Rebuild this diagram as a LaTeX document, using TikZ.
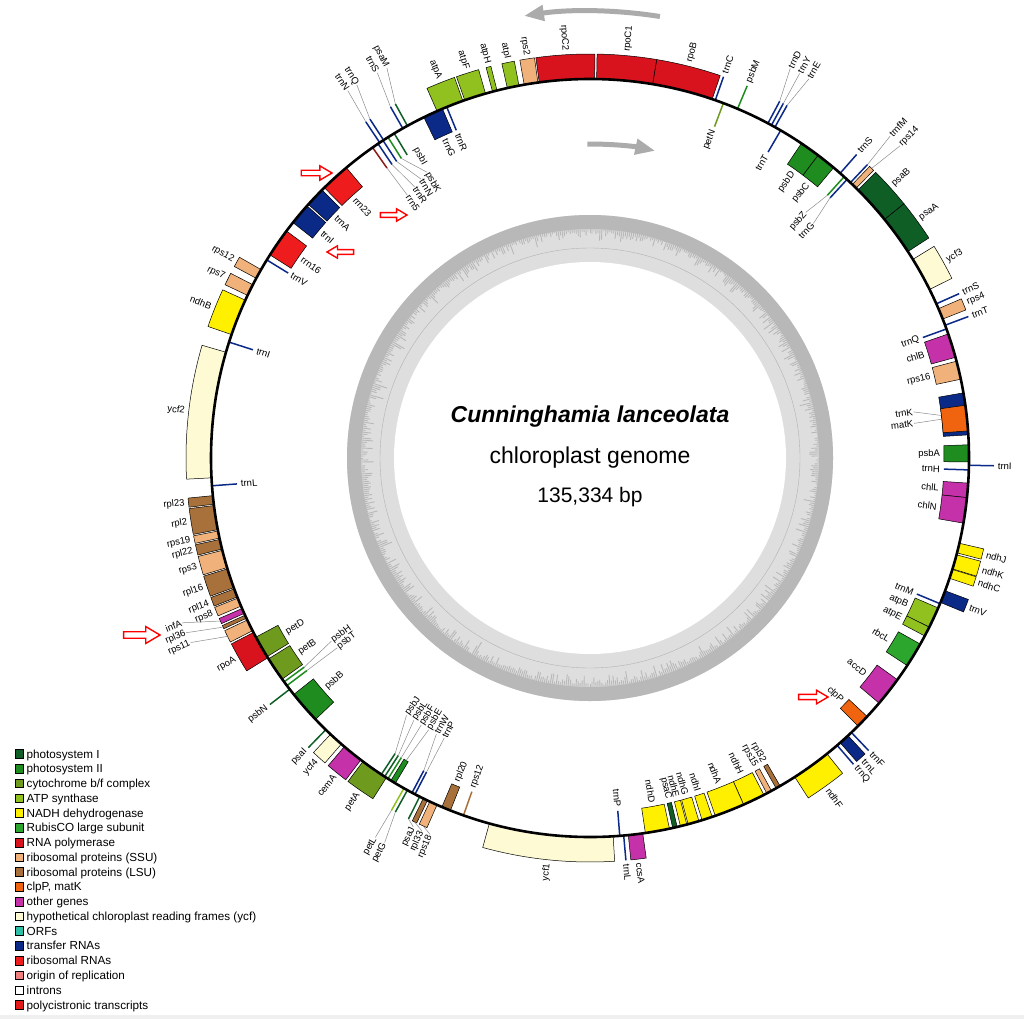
\documentclass[tikz,border=0pt]{standalone}
\usepackage{fontspec}
\setmainfont{Liberation Sans}
\usetikzlibrary{arrows.meta}
\definecolor{cPSI}{HTML}{0F5E26}
\definecolor{cPSII}{HTML}{1E8C1E}
\definecolor{cCYT}{HTML}{6E9A1E}
\definecolor{cATP}{HTML}{90C11E}
\definecolor{cNADH}{HTML}{FFF000}
\definecolor{cRUB}{HTML}{2DA62D}
\definecolor{cRNAP}{HTML}{D9131E}
\definecolor{cSSU}{HTML}{F0B27A}
\definecolor{cLSU}{HTML}{A8703A}
\definecolor{cCLP}{HTML}{F0640F}
\definecolor{cOTH}{HTML}{C431A8}
\definecolor{cYCF}{HTML}{FEFAD4}
\definecolor{cORF}{HTML}{2EBFA8}
\definecolor{cTRNA}{HTML}{0B2A88}
\definecolor{cRRNA}{HTML}{EE1C1C}
\definecolor{cRRNAd}{HTML}{8B1A1A}
\definecolor{cORI}{HTML}{F08080}
\definecolor{cPOLY}{HTML}{E41A1A}
\definecolor{ringdark}{HTML}{B8B8B8}
\definecolor{ringlight}{HTML}{DEDEDE}
\definecolor{garrowc}{HTML}{ABABAB}
\tikzset{
  glab/.style={font=\fontsize{9.5}{10}\selectfont, inner sep=0.8pt, text=black},
  leader/.style={draw=black!45, line width=0.5pt},
  legtxt/.style={font=\fontsize{11.7}{12}\selectfont, inner sep=0pt},
  garrow/.style={draw=garrowc, line width=5pt, -{Triangle[length=20pt,width=15pt]}},
  redarr/.style={draw=red, fill=white, line width=1.4pt, line join=miter}
}
% gene box: start angle, end angle, colour, o/i
\newcommand\gBox[4]{%
  \if#4o\def\gRa{379}\def\gRb{404}\else\def\gRa{354}\def\gRb{379}\fi
  \filldraw[fill=#3,draw=black,line width=0.5pt] (#1:\gRa) arc[start angle=#1,end angle=#2,radius=\gRa] -- (#2:\gRb) arc[start angle=#2,end angle=#1,radius=\gRb] -- cycle;}
% thin gene: angle, colour, o/i
\newcommand\gLine[3]{%
  \if#3o\def\gRb{404}\else\def\gRb{354}\fi
  \draw[#2,line width=1.5pt] (#1:379) -- (#1:\gRb);}
% label: angle, radius, text, o/i
\newcommand\gLab[4]{%
  \pgfmathtruncatemacro\gLeft{cos(#1)<0?1:0}%
  \ifnum\gLeft=1
    \pgfmathsetmacro\gRot{#1+180}%
    \if#4o\def\gAnc{east}\else\def\gAnc{west}\fi
  \else
    \pgfmathsetmacro\gRot{#1}%
    \if#4o\def\gAnc{west}\else\def\gAnc{east}\fi
  \fi
  \node[glab,rotate=\gRot,anchor=\gAnc] at (#1:#2) {#3};}
\newcommand\gLead[4]{%
  \if#4o\def\gRb{404}\else\def\gRb{354}\fi
  \draw[leader] (#1:\gRb) -- (#2:#3);}
\newcommand\gLL[5]{\gLead{#1}{#2}{#3}{#5}\gLab{#2}{#3}{#4}{#5}}
\newcommand\redArrow[4]{% x, y, rotation, scale
  \draw[redarr,shift={(#1,#2)},rotate=#3,scale=#4] (0,0) -- (-11,6.5) -- (-11,2.5) -- (-28,2.5) -- (-28,-2.5) -- (-11,-2.5) -- (-11,-6.5) -- cycle;}
\newcommand\legItem[3]{%
  \pgfmathsetmacro\ly{-754-14.76*#1}
  \node[draw=black,line width=0.7pt,fill=#2,minimum size=8.6pt,inner sep=0pt] (lg#1) at (19.2,\ly) {};
  \node[legtxt,anchor=base west] (lt#1) at (26.5,\ly-4.1) {#3};}
\begin{document}
\begin{tikzpicture}[x=1pt,y=1pt]
\useasboundingbox (0,0) rectangle (1024,-1019);
\fill[white] (0,0) rectangle (1024,-1019);
\fill[black!6] (0,-1015) rectangle (1024,-1019);

\begin{scope}[shift={(590,-458)}]
% GC ring
\fill[ringlight] (0,0) circle[radius=243];
\draw[black!30,line width=0.4pt] (0,0) circle[radius=210];
\fill[ringdark,even odd rule] (0,0) circle[radius=243] (0,0) circle[radius=229];
\pgfmathsetseed{42}
\foreach \a in {0,0.5,...,359.5}{%
  \pgfmathsetmacro\rr{229-12*rnd*rnd-4*rnd}
  \draw[ringdark,line width=0.9pt] (\a:229.5) -- (\a:\rr);}
\fill[white] (0,0) circle[radius=196];

% title
\node[font=\fontsize{23}{24}\selectfont\bfseries\itshape] (t1) at (0,41) {Cunninghamia lanceolata};
\node[font=\fontsize{23}{24}\selectfont] (t2) at (0,0.5) {chloroplast genome};
\node[font=\fontsize{21}{22}\selectfont] (t3) at (0,-39.5) {135,334 bp};

% gray direction arrows
\draw[garrow] (81:447) arc[start angle=81,end angle=98.5,radius=447];
\draw[garrow] (90.5:314) arc[start angle=90.5,end angle=78,radius=314];

% ---------- genes ----------
\gBox{71.2}{80.5}{cRNAP}{o}
\gBox{80.5}{89.0}{cRNAP}{o}
\gBox{89.3}{97.7}{cRNAP}{o}
\gBox{97.9}{100.0}{cSSU}{o}
\gBox{100.8}{102.6}{cATP}{o}
\gBox{104.2}{104.9}{cATP}{o}
\gBox{106.0}{109.3}{cATP}{o}
\gBox{109.6}{113.8}{cATP}{o}
\gLine{70.7}{cTRNA}{o}
\gLine{69.4}{cCYT}{i}
\gLine{67.1}{cPSII}{o}
\gLine{62.0}{cTRNA}{o}
\gLine{61.4}{cTRNA}{o}
\gLine{60.8}{cTRNA}{o}
\gLine{59.8}{cTRNA}{i}
\gBox{53.0}{56.1}{cPSII}{i}
\gBox{50.0}{53.0}{cPSII}{i}
\gLine{48.7}{cTRNA}{o}
\gLine{47.9}{cPSII}{i}
\gLine{47.3}{cTRNA}{i}
\gLine{46.6}{cTRNA}{o}
\gBox{45.4}{46.2}{cSSU}{o}
\gBox{39.0}{45.0}{cPSI}{o}
\gBox{33.0}{39.0}{cPSI}{o}
\gBox{26.4}{31.6}{cYCF}{o}
\gLine{24.0}{cTRNA}{o}
\gBox{21.5}{23.2}{cSSU}{o}
\gLine{20.5}{cTRNA}{o}
\gLine{19.9}{cTRNA}{i}
\gBox{15.4}{19.1}{cOTH}{i}
\gBox{12.0}{14.8}{cSSU}{i}
\gBox{3.5}{9.9}{cTRNA}{i}
\gBox{4.1}{8.0}{cCLP}{i}
\gBox{-0.6}{2.0}{cPSII}{i}
\gLine{-1.8}{cTRNA}{i}
\gLine{-1.1}{cTRNA}{o}
\gBox{-6.0}{-3.8}{cOTH}{i}
\gBox{-9.9}{-6.0}{cOTH}{i}
\gBox{-14.5}{-13.0}{cNADH}{o}
\gBox{-17.0}{-14.8}{cNADH}{o}
\gBox{-18.5}{-17.1}{cNADH}{o}
\gBox{-22.4}{-20.5}{cTRNA}{o}
\gLine{-22.6}{cTRNA}{i}
\gBox{-26.5}{-23.3}{cATP}{i}
\gBox{-28.0}{-26.5}{cATP}{i}
\gBox{-33.2}{-29.4}{cRUB}{i}
\gBox{-40.3}{-35.8}{cOTH}{i}
\gBox{-45.0}{-43.0}{cCLP}{i}
\gLine{-46.4}{cTRNA}{o}
\gBox{-48.7}{-47.1}{cTRNA}{o}
\gLine{-49.3}{cTRNA}{o}
\gBox{-57.3}{-51.3}{cNADH}{o}
\gBox{-60.6}{-59.9}{cLSU}{i}
\gBox{-62.2}{-61.4}{cSSU}{i}
\gBox{-66.1}{-62.7}{cNADH}{i}
\gBox{-70.7}{-66.1}{cNADH}{i}
\gBox{-72.8}{-71.2}{cNADH}{i}
\gBox{-75.0}{-73.3}{cNADH}{i}
\gBox{-76.2}{-75.2}{cNADH}{i}
\gBox{-77.4}{-76.7}{cPSI}{i}
\gBox{-81.6}{-77.9}{cNADH}{i}
\gBox{-84.2}{-82.0}{cOTH}{o}
\gLine{-84.9}{cTRNA}{o}
\gLine{-85.5}{cTRNA}{i}
\gBox{254.6}{273.5}{cYCF}{o}
\gLine{250.5}{cLSU}{i}
\gBox{247.0}{248.4}{cLSU}{i}
\gBox{245.0}{246.2}{cSSU}{o}
\gBox{243.9}{244.6}{cLSU}{o}
\gLine{243.3}{cPSI}{o}
\gLine{242.5}{cTRNA}{i}
\gLine{242.0}{cTRNA}{i}
\gLine{241.2}{cPSI}{o}
\gLine{240.6}{cATP}{o}
\gBox{238.3}{239.1}{cPSII}{i}
\gLine{237.8}{cPSII}{i}
\gLine{237.2}{cPSI}{i}
\gLine{236.6}{cPSI}{i}
\gBox{233.2}{237.5}{cCYT}{o}
\gBox{229.6}{232.8}{cOTH}{o}
\gBox{226.8}{229.0}{cYCF}{o}
\gLine{225.8}{cPSI}{o}
\gBox{218.6}{223.6}{cPSII}{i}
\gLine{217.6}{cPSI}{o}
\gLine{216.9}{cPSII}{i}
\gLine{216.2}{cPSII}{i}
\gBox{212.0}{215.7}{cCYT}{i}
\gBox{208.2}{211.6}{cCYT}{i}
\gBox{207.4}{211.8}{cRNAP}{o}
\gBox{205.3}{207.1}{cSSU}{o}
\gBox{204.5}{205.0}{cLSU}{o}
\gBox{203.4}{204.2}{cOTH}{o}
\gBox{201.7}{203.0}{cSSU}{o}
\gBox{200.2}{201.5}{cLSU}{o}
\gBox{197.0}{200.0}{cLSU}{o}
\gBox{194.1}{196.8}{cSSU}{o}
\gBox{192.4}{193.9}{cLSU}{o}
\gBox{191.1}{192.2}{cSSU}{o}
\gBox{187.2}{190.9}{cLSU}{o}
\gBox{185.7}{187.0}{cLSU}{o}
\gLine{184.2}{cTRNA}{i}
\gBox{163.8}{183.0}{cYCF}{o}
\gLine{162.2}{cTRNA}{i}
\gBox{155.4}{161.0}{cNADH}{o}
\gBox{152.8}{154.6}{cSSU}{o}
\gBox{150.2}{151.7}{cSSU}{o}
\gLine{148.5}{cTRNA}{i}
\gBox{143.2}{147.6}{cRRNA}{i}
\gBox{138.3}{141.6}{cTRNA}{i}
\gBox{135.0}{138.0}{cTRNA}{i}
\gBox{130.0}{134.5}{cRRNA}{i}
\gLine{125.0}{cRRNAd}{i}
\gLine{124.0}{cTRNA}{i}
\gLine{123.1}{cTRNA}{i}
\gLine{122.2}{cPSII}{i}
\gLine{121.1}{cPSI}{i}
\gLine{123.7}{cTRNA}{o}
\gLine{123.0}{cTRNA}{o}
\gLine{119.6}{cTRNA}{o}
\gLine{118.8}{cPSI}{o}
\gBox{112.9}{116.0}{cTRNA}{i}
\gLine{112.2}{cTRNA}{i}

% main circle
\draw[black,line width=2.6pt] (0,0) circle[radius=379];

% ---------- labels outside ----------
\gLab{75.85}{407}{rpoB}{o}
\gLab{84.75}{407}{rpoC1}{o}
\gLab{93.5}{407}{rpoC2}{o}
\gLab{98.95}{407}{rps2}{o}
\gLab{101.7}{407}{atpI}{o}
\gLab{104.55}{407}{atpH}{o}
\gLab{107.65}{407}{atpF}{o}
\gLab{111.7}{407}{atpA}{o}
\gLab{70.7}{407}{trnC}{o}
\gLab{67.1}{407}{psbM}{o}
\gLab{48.7}{407}{trnS}{o}
\gLab{42.0}{407}{psaB}{o}
\gLab{36.0}{407}{psaA}{o}
\gLab{29.0}{407}{ycf3}{o}
\gLab{24.0}{407}{trnS}{o}
\gLab{22.35}{407}{rps4}{o}
\gLab{20.5}{407}{trnT}{o}
\gLab{-1.1}{407}{trnI}{o}
\gLab{-13.75}{407}{ndhJ}{o}
\gLab{-15.9}{407}{ndhK}{o}
\gLab{-17.8}{407}{ndhC}{o}
\gLab{-21.45}{407}{trnV}{o}
\gLab{-46.4}{407}{trnF}{o}
\gLab{-47.9}{407}{trnL}{o}
\gLab{-49.3}{407}{trnQ}{o}
\gLab{-54.3}{407}{ndhF}{o}
\gLab{-83.1}{407}{ccsA}{o}
\gLab{-84.9}{407}{trnL}{o}
\gLab{264}{407}{ycf1}{o}
\gLab{235.35}{407}{petA}{o}
\gLab{231.2}{407}{cemA}{o}
\gLab{227.9}{407}{ycf4}{o}
\gLab{225.8}{407}{psaI}{o}
\gLab{217.6}{407}{psbN}{o}
\gLab{209.6}{407}{rpoA}{o}
\gLab{202.35}{407}{rps8}{o}
\gLab{200.85}{407}{rpl14}{o}
\gLab{198.5}{407}{rpl16}{o}
\gLab{195.45}{407}{rps3}{o}
\gLab{193.15}{407}{rpl22}{o}
\gLab{191.65}{407}{rps19}{o}
\gLab{189.05}{407}{rpl2}{o}
\gLab{186.35}{407}{rpl23}{o}
\gLab{173.4}{407}{ycf2}{o}
\gLab{158.2}{407}{ndhB}{o}
\gLab{153.7}{407}{rps7}{o}
\gLab{150.95}{407}{rps12}{o}
\gLL{118.8}{117.5}{440}{psaM}{o}
\gLL{119.6}{118.9}{440}{trnS}{o}
\gLL{123.0}{122.0}{440}{trnQ}{o}
\gLL{123.7}{123.4}{440}{trnN}{o}
\gLL{62.0}{62.8}{438}{trnD}{o}
\gLL{61.4}{61.4}{438}{trnY}{o}
\gLL{60.8}{60.0}{438}{trnE}{o}
\gLL{46.6}{47.0}{440}{trnfM}{o}
\gLL{45.8}{45.2}{440}{rps14}{o}
\gLL{203.8}{202.0}{440}{infA}{o}
\gLL{204.75}{203.4}{440}{rpl36}{o}
\gLL{206.2}{204.8}{440}{rps11}{o}
\gLL{243.3}{244.4}{409}{psaJ}{o}
\gLL{244.25}{245.7}{409}{rpl33}{o}
\gLL{245.6}{247.0}{409}{rps18}{o}
\gLL{240.6}{240.5}{436}{petL}{o}
\gLL{241.2}{241.9}{436}{petG}{o}

% ---------- labels inside ----------
\gLab{69.4}{351}{petN}{i}
\gLab{59.8}{351}{trnT}{i}
\gLab{54.55}{351}{psbD}{i}
\gLab{51.5}{351}{psbC}{i}
\gLab{19.9}{351}{trnQ}{i}
\gLab{17.25}{351}{chlB}{i}
\gLab{13.4}{351}{rps16}{i}
\gLab{0.7}{351}{psbA}{i}
\gLab{-1.8}{351}{trnH}{i}
\gLab{-4.9}{351}{chlL}{i}
\gLab{-8.0}{351}{chlN}{i}
\gLab{-22.6}{351}{trnM}{i}
\gLab{-24.9}{351}{atpB}{i}
\gLab{-27.25}{351}{atpE}{i}
\gLab{-31.3}{351}{rbcL}{i}
\gLab{-38.05}{351}{accD}{i}
\gLab{-44.0}{351}{clpP}{i}
\gLab{-60.25}{351}{rpl32}{i}
\gLab{-61.8}{351}{rps15}{i}
\gLab{-64.4}{351}{ndhH}{i}
\gLab{-68.4}{351}{ndhA}{i}
\gLab{-72.0}{351}{ndhI}{i}
\gLab{-74.15}{351}{ndhG}{i}
\gLab{-75.7}{351}{ndhE}{i}
\gLab{-77.05}{351}{psaC}{i}
\gLab{-79.75}{351}{ndhD}{i}
\gLab{-85.5}{351}{trnP}{i}
\gLab{250.5}{351}{rps12}{i}
\gLab{247.7}{351}{rpl20}{i}
\gLab{221.1}{351}{psbB}{i}
\gLab{213.85}{351}{petB}{i}
\gLab{209.9}{351}{petD}{i}
\gLab{184.2}{351}{trnL}{i}
\gLab{162.2}{351}{trnI}{i}
\gLab{148.5}{351}{trnV}{i}
\gLab{145.4}{351}{rrn16}{i}
\gLab{139.95}{351}{trnI}{i}
\gLab{136.5}{351}{trnA}{i}
\gLab{132.25}{351}{rrn23}{i}
\gLab{114.45}{351}{trnG}{i}
\gLab{112.2}{351}{trnR}{i}
\gLab{119.4}{356}{psbI}{i}
\gLL{122.2}{119.7}{329}{psbK}{i}
\gLL{123.1}{121.2}{326}{trnN}{i}
\gLL{124.0}{122.9}{323}{trnR}{i}
\gLL{125.0}{124.8}{320}{rrn5}{i}
\gLL{47.9}{48.7}{327}{psbZ}{i}
\gLL{47.3}{46.4}{324}{trnG}{i}
\gLL{6.9}{8.1}{327}{trnK}{i}
\gLL{6.3}{6.1}{326}{matK}{i}
\gLL{216.2}{215.3}{317}{psbH}{i}
\gLL{216.9}{216.9}{316}{psbT}{i}
\gLL{236.6}{234.5}{316}{psbJ}{i}
\gLL{237.2}{236.1}{316}{psbL}{i}
\gLL{237.8}{237.7}{316}{psbF}{i}
\gLL{238.7}{239.3}{316}{psbE}{i}
\gLL{242.0}{240.9}{316}{trnW}{i}
\gLL{242.5}{242.5}{316}{trnP}{i}
\end{scope}

% red pointer arrows
\redArrow{332}{-173}{0}{1.1}
\redArrow{407}{-215}{0}{0.95}
\redArrow{327}{-252}{180}{0.95}
\redArrow{160}{-635}{0}{1.3}
\redArrow{828}{-697}{0}{1.05}

% legend
\legItem{0}{cPSI}{photosystem I}
\legItem{1}{cPSII}{photosystem II}
\legItem{2}{cCYT}{cytochrome b/f complex}
\legItem{3}{cATP}{ATP synthase}
\legItem{4}{cNADH}{NADH dehydrogenase}
\legItem{5}{cRUB}{RubisCO large subunit}
\legItem{6}{cRNAP}{RNA polymerase}
\legItem{7}{cSSU}{ribosomal proteins (SSU)}
\legItem{8}{cLSU}{ribosomal proteins (LSU)}
\legItem{9}{cCLP}{clpP, matK}
\legItem{10}{cOTH}{other genes}
\legItem{11}{cYCF}{hypothetical chloroplast reading frames (ycf)}
\legItem{12}{cORF}{ORFs}
\legItem{13}{cTRNA}{transfer RNAs}
\legItem{14}{cRRNA}{ribosomal RNAs}
\legItem{15}{cORI}{origin of replication}
\legItem{16}{white}{introns}
\legItem{17}{cPOLY}{polycistronic transcripts}
\end{tikzpicture}
\end{document}
